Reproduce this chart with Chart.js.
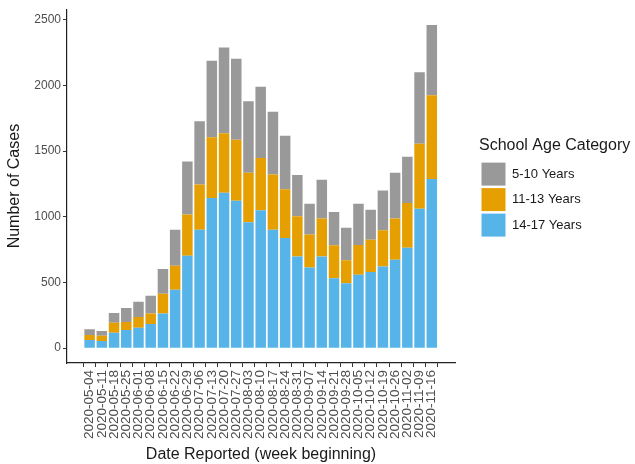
<!DOCTYPE html>
<html>
<head>
<meta charset="utf-8">
<script src="https://cdn.jsdelivr.net/npm/chart.js@4"></script>
<style>
  html, body { margin: 0; padding: 0; background: #fff; }
  #wrap { width: 635px; height: 464px; position: relative; }
</style>
</head>
<body>
<div id="wrap"><canvas id="casesChart"></canvas></div>
<script>
// week beginning dates
const weeks = ['2020-05-04', '2020-05-11', '2020-05-18', '2020-05-25', '2020-06-01', '2020-06-08',
  '2020-06-15', '2020-06-22', '2020-06-29', '2020-07-06', '2020-07-13', '2020-07-20', '2020-07-27',
  '2020-08-03', '2020-08-10', '2020-08-17', '2020-08-24', '2020-08-31', '2020-09-07', '2020-09-14',
  '2020-09-21', '2020-09-28', '2020-10-05', '2020-10-12', '2020-10-19', '2020-10-26', '2020-11-02',
  '2020-11-09', '2020-11-16'];

// cases per age group
const age14to17 = [62, 55, 117, 138, 155, 183, 264, 444, 703, 901, 1142, 1182, 1122, 959, 1049,
  901, 838, 697, 614, 697, 532, 494, 559, 580, 622, 672, 765, 1062, 1288];
const age11to13 = [38, 40, 76, 62, 83, 81, 150, 183, 314, 344, 464, 454, 464, 376, 399,
  421, 371, 307, 252, 289, 251, 176, 226, 245, 276, 314, 339, 494, 637];
const age5to10 = [43, 35, 75, 106, 116, 135, 188, 274, 403, 482, 582, 653, 617, 545, 542,
  478, 407, 314, 233, 296, 253, 246, 314, 229, 302, 349, 352, 545, 534];

const yTicks = [0, 500, 1000, 1500, 2000, 2500];

const textGrey = '#4d4d4d';
const font = 'Liberation Sans, Arial, sans-serif';

const toPoints = (arr) => arr.map((v, i) => ({ x: i, y: v }));

const ds = (label, arr, color) => ({
  label,
  data: toPoints(arr),
  backgroundColor: color,
  borderWidth: 0,
  barPercentage: 0.86,
  categoryPercentage: 1
});

// ggplot-like legend placement: fixed width, block nudged right and up
const legendPlace = {
  id: 'legendPlace',
  beforeLayout(chart) {
    const leg = chart.legend;
    if (leg && !leg._fitPatched) {
      const fit = leg.fit;
      leg.fit = function () { fit.call(this); this.width = 180; };
      leg._fitPatched = true;
    }
  },
  afterLayout(chart) {
    const leg = chart.legend;
    if (leg) {
      leg.left = 479;
      leg.top -= 46;
      leg.bottom -= 46;
    }
  }
};

const ctx = document.getElementById('casesChart').getContext('2d');
const chart = new Chart(ctx, {
  type: 'bar',
  data: {
    datasets: [
      ds('14-17 Years', age14to17, '#56B4E9'),
      ds('11-13 Years', age11to13, '#E69F00'),
      ds('5-10 Years', age5to10, '#999999')
    ]
  },
  plugins: [legendPlace],
  options: {
    responsive: true,
    maintainAspectRatio: false,
    animation: false,
    layout: { padding: { top: 5, right: 0, bottom: 0, left: 0 } },
    plugins: {
      tooltip: { enabled: false },
      legend: {
        position: 'right',
        reverse: true,
        title: {
          display: true,
          text: 'School Age Category',
          color: '#1a1a1a',
          position: 'start',
          font: { family: font, size: 16 },
          padding: { top: 0, bottom: 3 }
        },
        labels: {
          boxWidth: 24,
          boxHeight: 23,
          padding: 2.5,
          color: '#1a1a1a',
          font: { family: font, size: 13 }
        }
      }
    },
    scales: {
      x: {
        type: 'linear',
        stacked: true,
        offset: false,
        min: -1.85,
        max: 29.9,
        afterFit: (scale) => { scale.height = 101; },
        afterBuildTicks: (scale) => { scale.ticks = weeks.map((w, i) => ({ value: i })); },
        ticks: {
          autoSkip: false,
          minRotation: 90,
          maxRotation: 90,
          color: textGrey,
          font: { family: font, size: 13.5 },
          padding: 3,
          callback: (v) => weeks[v]
        },
        grid: { drawOnChartArea: false, drawTicks: true, tickLength: 4, color: '#333' },
        border: { display: true, color: '#222', width: 1.2 },
        title: {
          display: true,
          text: 'Date Reported (week beginning)',
          color: '#1a1a1a',
          font: { family: font, size: 16 },
          padding: { top: 0, bottom: 0 }
        }
      },
      y: {
        stacked: true,
        min: -113,
        max: 2580,
        afterFit: (scale) => { scale.width = 67; },
        afterBuildTicks: (scale) => { scale.ticks = yTicks.map(v => ({ value: v })); },
        ticks: {
          color: textGrey,
          font: { family: font, size: 12 },
          padding: 2,
          callback: (v) => String(v)
        },
        grid: { drawOnChartArea: false, drawTicks: true, tickLength: 4, color: '#333' },
        border: { display: true, color: '#222', width: 1.2 },
        title: {
          display: true,
          text: 'Number of Cases',
          color: '#1a1a1a',
          font: { family: font, size: 16 },
          padding: { top: 5, bottom: 0 }
        }
      }
    }
  }
});
</script>
</body>
</html>
